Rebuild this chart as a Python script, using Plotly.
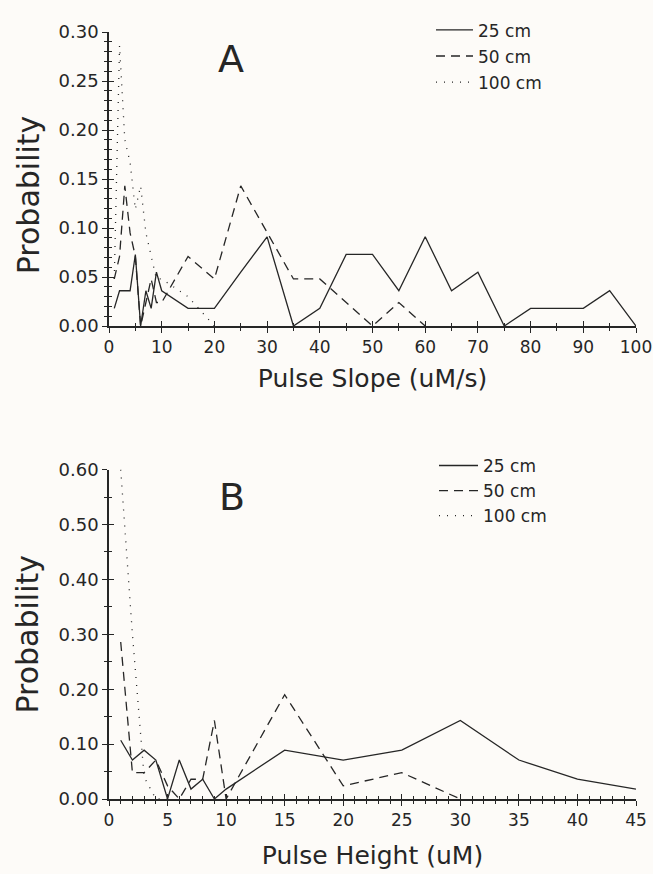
import plotly.graph_objects as go

# ---------------- Panel A: Pulse Slope ----------------
slope_x_25 = [1, 2, 3, 4, 5, 6, 7, 8, 9, 10, 15, 20, 25, 30, 35, 40, 45, 50, 55, 60,
              65, 70, 75, 80, 85, 90, 95, 100]
slope_25 = [0.018, 0.036, 0.036, 0.036, 0.073, 0.0, 0.036, 0.018, 0.055, 0.036,
            0.018, 0.018, 0.055, 0.091, 0.0, 0.018, 0.073, 0.073, 0.036, 0.091,
            0.036, 0.055, 0.0, 0.018, 0.018, 0.018, 0.036, 0.0]

slope_x_50 = [1, 2, 3, 4, 5, 6, 7, 8, 9, 10, 15, 20, 25, 30, 35, 40, 45, 50, 55, 60]
slope_50 = [0.048, 0.071, 0.143, 0.095, 0.071, 0.0, 0.024, 0.048, 0.024, 0.024,
            0.071, 0.048, 0.143, 0.095, 0.048, 0.048, 0.024, 0.0, 0.024, 0.0]

slope_x_100 = [1, 2, 3, 4, 5, 6, 7, 8, 9, 10, 15, 20]
slope_100 = [0.048, 0.286, 0.19, 0.167, 0.119, 0.143, 0.095, 0.071, 0.048, 0.048,
             0.03, 0.0]

# ---------------- Panel B: Pulse Height ----------------
height_x_25 = [1, 2, 3, 4, 5, 6, 7, 8, 9, 10, 15, 20, 25, 30, 35, 40, 45]
height_25 = [0.107, 0.071, 0.089, 0.071, 0.0, 0.071, 0.018, 0.036, 0.0, 0.018,
             0.089, 0.071, 0.089, 0.143, 0.071, 0.036, 0.018]

height_x_50 = [1, 2, 3, 4, 5, 6, 7, 8, 9, 10, 15, 20, 25, 30]
height_50 = [0.286, 0.048, 0.048, 0.071, 0.024, 0.0, 0.036, 0.036, 0.143, 0.0,
             0.19, 0.024, 0.048, 0.0]

height_x_100 = [1, 2, 3, 4, 5]
height_100 = [0.6, 0.3, 0.04, 0.0, 0.0]

series_names = ["25 cm", "50 cm", "100 cm"]

INK = "#262626"
FONT = "DejaVu Sans"
BG = "#fdfbf8"

dash_styles = ["solid", "9px,6px", "1px,7px"]

fig = go.Figure()

panelA = [(slope_x_25, slope_25), (slope_x_50, slope_50), (slope_x_100, slope_100)]
panelB = [(height_x_25, height_25), (height_x_50, height_50), (height_x_100, height_100)]

for i, (xs, ys) in enumerate(panelA):
    fig.add_trace(go.Scatter(
        x=xs, y=ys, mode="lines", name=series_names[i],
        line=dict(color=INK, width=1.3, dash=dash_styles[i]),
        xaxis="x", yaxis="y", legend="legend", legendgroup="a%d" % i,
    ))
for i, (xs, ys) in enumerate(panelB):
    fig.add_trace(go.Scatter(
        x=xs, y=ys, mode="lines", name=series_names[i],
        line=dict(color=INK, width=1.3, dash=dash_styles[i]),
        xaxis="x2", yaxis="y2", legend="legend2", legendgroup="b%d" % i,
    ))

# invisible companions so the overlaid axes (inner half of the crossing ticks) are drawn
fig.add_trace(go.Scatter(x=slope_x_25, y=slope_25, mode="lines", showlegend=False,
                         hoverinfo="skip", line=dict(color="rgba(0,0,0,0)", width=0),
                         xaxis="x3", yaxis="y3"))
fig.add_trace(go.Scatter(x=height_x_25, y=height_25, mode="lines", showlegend=False,
                         hoverinfo="skip", line=dict(color="rgba(0,0,0,0)", width=0),
                         xaxis="x4", yaxis="y4"))

W, H = 653, 874
ml, mr, mt, mb = 109, 17, 19, 75
pw, ph = W - ml - mr, H - mt - mb

def ypaper(py):
    return (H - mb - py) / ph

def xpaper(px):
    return (px - ml) / pw

domA_y = [ypaper(318), 1.0]
domB_y = [0, ypaper(464)]

xtickfont = dict(family=FONT, size=17, color=INK)
ytickfont = dict(family=FONT, size=18, color=INK)
xtitlefont = dict(family=FONT, size=25, color=INK)
ytitlefont = dict(family=FONT, size=30, color=INK)

def main_axis(rng, dtick, minor_dtick, dom, anchor, title, tfont, tickf, fmt=None,
              standoff=14):
    d = dict(
        range=rng, domain=dom, anchor=anchor, tickmode="linear", tick0=0, dtick=dtick,
        ticks="outside", ticklen=5, tickwidth=1.3, tickcolor=INK,
        minor=dict(dtick=minor_dtick, tick0=0, ticks="outside", ticklen=3,
                   tickwidth=1.1, tickcolor=INK),
        showline=True, linecolor=INK, linewidth=1.5, showgrid=False, zeroline=False,
        tickfont=tickf, ticklabeloverflow="allow",
        title=dict(text=title, font=tfont, standoff=standoff),
        automargin=False,
    )
    if fmt:
        d["tickformat"] = fmt
    return d

def overlay_axis(rng, dtick, minor_dtick, over, anchor, side):
    return dict(
        range=rng, overlaying=over, anchor=anchor, side=side, tickmode="linear", tick0=0,
        dtick=dtick, ticks="inside", ticklen=5, tickwidth=1.3, tickcolor=INK,
        minor=dict(dtick=minor_dtick, tick0=0, ticks="inside", ticklen=3,
                   tickwidth=1.1, tickcolor=INK),
        showline=False, showgrid=False, zeroline=False, showticklabels=False,
    )

fig.update_layout(
    width=W, height=H,
    margin=dict(l=ml, r=mr, t=mt, b=mb),
    paper_bgcolor=BG, plot_bgcolor=BG,
    xaxis=main_axis([0, 100], 10, 5, [0, 1], "y", "Pulse Slope (uM/s)", xtitlefont,
                    xtickfont, standoff=13),
    yaxis=main_axis([0, 0.30], 0.05, 0.01, domA_y, "x", "", ytitlefont, ytickfont,
                    ".2f", 12),
    xaxis2=main_axis([0, 45], 5, 1, [0, 1], "y2", "Pulse Height (uM)", xtitlefont,
                     xtickfont, standoff=17),
    yaxis2=main_axis([0, 0.60], 0.10, 0.05, domB_y, "x2", "Probability", ytitlefont,
                     ytickfont, ".2f", 11),
    xaxis3=overlay_axis([0, 100], 10, 5, "x", "y", "bottom"),
    yaxis3=overlay_axis([0, 0.30], 0.05, 0.01, "y", "x", "left"),
    xaxis4=overlay_axis([0, 45], 5, 1, "x2", "y2", "bottom"),
    yaxis4=overlay_axis([0, 0.60], 0.10, 0.05, "y2", "x2", "left"),
    legend=dict(x=xpaper(431), y=ypaper(-1), xanchor="left", yanchor="top",
                bgcolor="rgba(0,0,0,0)", font=dict(family=FONT, size=17, color=INK),
                tracegroupgap=1, itemwidth=37),
    legend2=dict(x=xpaper(434), y=ypaper(442), xanchor="left", yanchor="top",
                 bgcolor="rgba(0,0,0,0)", font=dict(family=FONT, size=17, color=INK),
                 tracegroupgap=0, itemwidth=39),
    showlegend=True,
    annotations=[
        dict(text="Probability", textangle=-90, x=xpaper(28), y=ypaper(185),
             xref="paper", yref="paper", xanchor="center", yanchor="middle",
             showarrow=False, font=ytitlefont),
        dict(text="A", x=23.2, y=0.272, xref="x", yref="y", showarrow=False,
             font=dict(family=FONT, size=38, color=INK)),
        dict(text="B", x=10.5, y=0.55, xref="x2", yref="y2", showarrow=False,
             font=dict(family=FONT, size=38, color=INK)),
    ],
)

fig.write_html(
    "out.html",
    config={"displayModeBar": False},
    post_script="document.body.style.margin='0';document.body.style.overflow='hidden';"
                "document.documentElement.style.overflow='hidden';",
)
